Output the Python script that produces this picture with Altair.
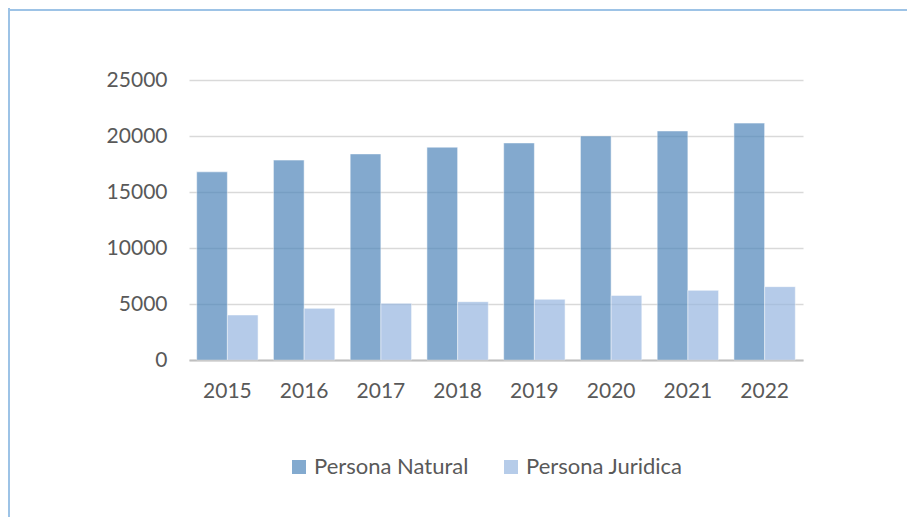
import altair as alt
import pandas as pd

years = ["2015", "2016", "2017", "2018", "2019", "2020", "2021", "2022"]
natural = [16800, 17850, 18400, 19000, 19380, 20000, 20450, 21150]
juridica = [4020, 4610, 5060, 5210, 5420, 5770, 6220, 6550]
series = ["Persona Natural", "Persona Juridica"]
y_ticks = [0, 5000, 10000, 15000, 20000, 25000]

rows = []
for i, y in enumerate(years):
    rows.append({"year": y, "serie": series[0], "value": natural[i]})
    rows.append({"year": y, "serie": series[1], "value": juridica[i]})
df = pd.DataFrame(rows)

FONT = "Lato"
TXT = "#595959"

bars = alt.Chart(df).mark_bar(opacity=0.7, stroke="#ffffff", strokeOpacity=0.5, strokeWidth=1).encode(
    x=alt.X("year:N", sort=years, title=None,
            scale=alt.Scale(paddingInner=0.2, paddingOuter=0.1),
            axis=alt.Axis(labelAngle=0, ticks=False, domain=True, domainColor="#bfbfbf",
                          domainWidth=2, labelPadding=20, labelFontSize=21,
                          labelFont=FONT, labelColor=TXT, grid=False)),
    xOffset=alt.XOffset("serie:N", sort=series, scale=alt.Scale(paddingInner=0, paddingOuter=0)),
    y=alt.Y("value:Q", title=None,
            scale=alt.Scale(domain=[0, 25000], nice=False),
            axis=alt.Axis(values=y_ticks, format="d", ticks=False, domain=False,
                          labelPadding=22, labelFontSize=21, labelFont=FONT, labelColor=TXT,
                          gridColor="#d9d9d9", gridWidth=1.5)),
    color=alt.Color("serie:N", sort=series,
                    scale=alt.Scale(domain=series, range=["#4f86ba", "#97b6e0"]),
                    legend=alt.Legend(title=None, orient="none", direction="horizontal",
                                      legendX=99, legendY=376, symbolType="square",
                                      symbolSize=196, symbolStrokeWidth=0, symbolOpacity=0.7,
                                      labelFontSize=22, labelFont=FONT, labelColor=TXT,
                                      labelOffset=4, columnPadding=31, padding=0)),
)

frame_v = alt.Chart(alt.Data(values=[{}])).mark_rule(color="#9dc3e6", strokeWidth=2).encode(
    x=alt.value(-180), y=alt.value(-72), y2=alt.value(437))
frame_h = alt.Chart(alt.Data(values=[{}])).mark_rule(color="#9dc3e6", strokeWidth=2).encode(
    x=alt.value(-181), x2=alt.value(718), y=alt.value(-70))

chart = alt.layer(bars, frame_v, frame_h).properties(
    width=614, height=280,
    autosize=alt.AutoSizeParams(type="none"),
    padding={"left": 181, "top": 72, "right": 104, "bottom": 157},
    background="#ffffff",
).configure_view(stroke=None)

chart.save("out.html", embed_options={"renderer": "svg", "actions": False})
